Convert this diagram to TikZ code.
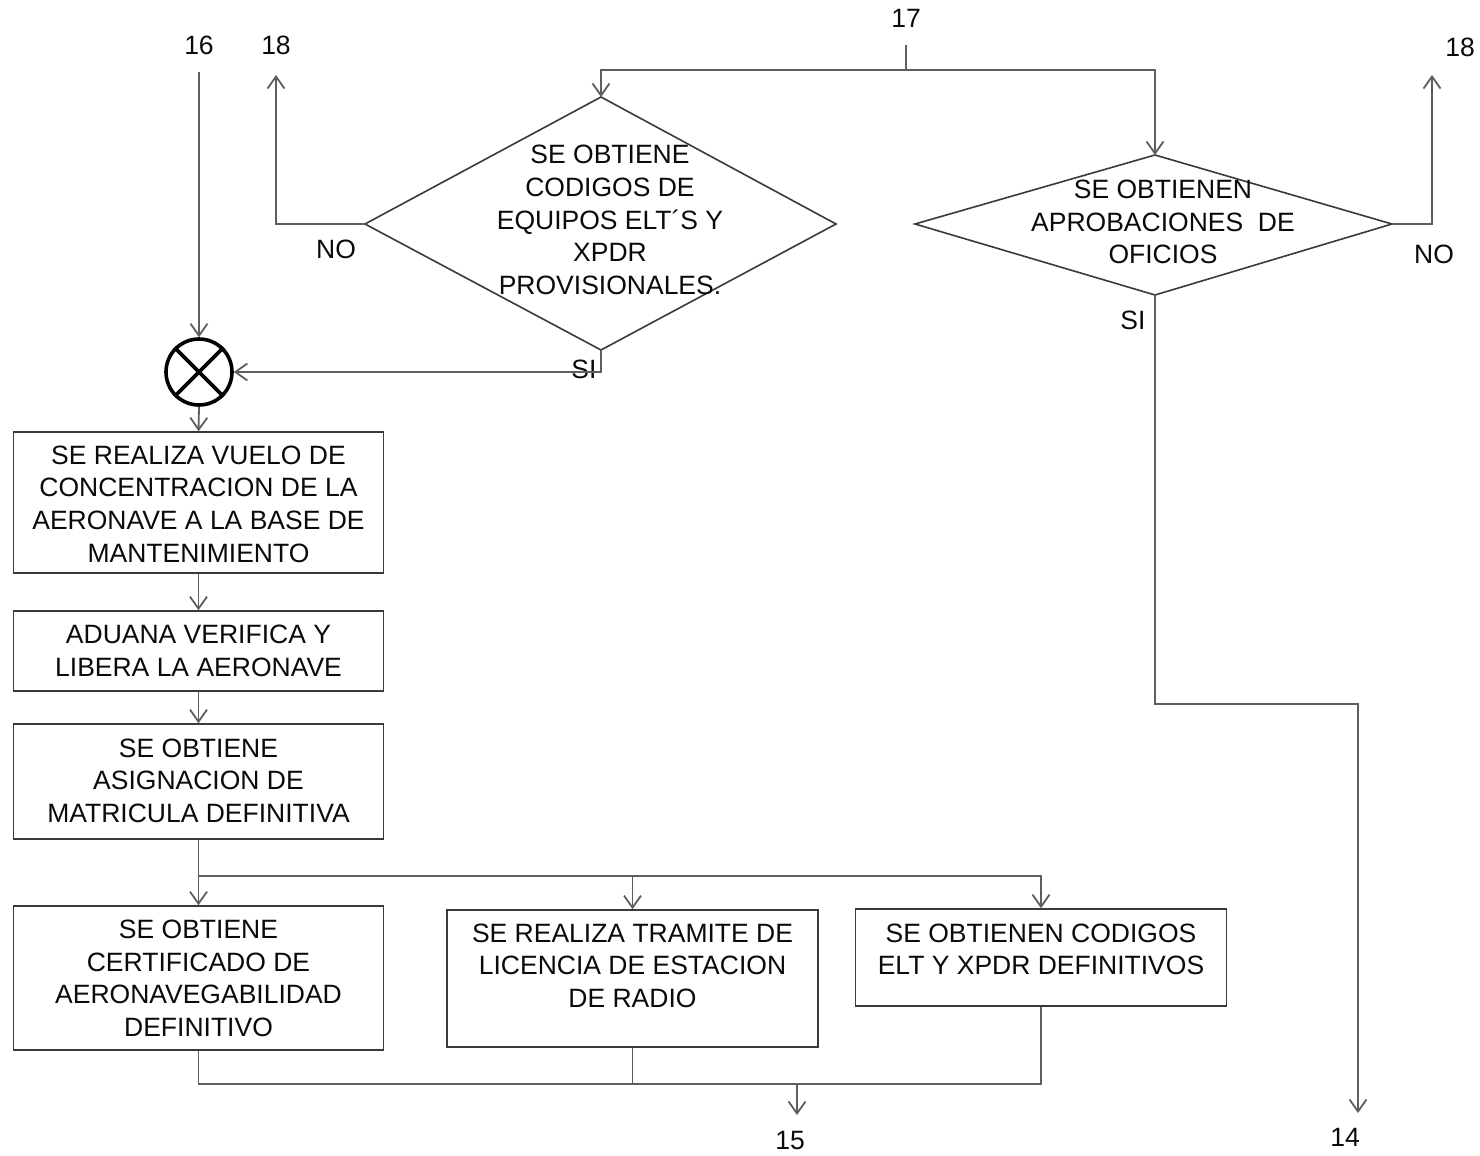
\documentclass[tikz,border=0pt]{standalone}
\usepackage{fontspec}
\setmainfont{Liberation Sans}
\usetikzlibrary{arrows.meta,shapes.geometric}
\definecolor{ink}{HTML}{0A0A0A}
\definecolor{wire}{HTML}{5E5E5E}
\definecolor{edge}{HTML}{3A3A3A}
\begin{document}
\begin{tikzpicture}[x=1pt,y=-1pt,
  txt/.style={align=center,inner sep=0pt,text=ink,font=\fontsize{26.5}{32.6}\selectfont},
  box/.style={draw=edge,line width=1.6pt,rectangle,inner sep=0pt},
  wirestyle/.style={draw=wire,line width=1.8pt},
  arr/.style={wirestyle,-{Straight Barb[length=12pt,width=17pt]}}]
\useasboundingbox (0,0) rectangle (1480,1156);
\fill[white] (0,0) rectangle (1480,1156);

% ---- decision: provisional ELT/XPDR codes
\coordinate (dlT) at (601,97);
\coordinate (dlL) at (365,224);
\coordinate (dlR) at (836,224);
\coordinate (dlB) at (601,350);
\draw[draw=edge,line width=1.6pt] (dlT) -- (dlR) -- (dlB) -- (dlL) -- cycle;
\node[txt] (dlt) at (610,220) {SE OBTIENE\\CODIGOS DE\\EQUIPOS ELT´S Y\\XPDR\\PROVISIONALES.};

% ---- decision: approvals
\coordinate (drT) at (1155,155);
\coordinate (drL) at (915,224);
\coordinate (drR) at (1392,224);
\coordinate (drB) at (1155,295);
\draw[draw=edge,line width=1.6pt] (drT) -- (drR) -- (drB) -- (drL) -- cycle;
\node[txt] (drt) at (1163,222) {SE OBTIENEN\\APROBACIONES \ DE\\OFICIOS};

% ---- summing junction
\node[draw=black,circle,line width=3.6pt,minimum size=66pt,inner sep=0pt] (circ) at (199,372) {};
\draw[black,line width=3.6pt] (circ.45) -- (circ.225) (circ.135) -- (circ.315);

% ---- process boxes
\node[box,minimum width=370pt,minimum height=141pt] (b1) at (198.5,502.5) {};
\node[txt] (t1) at (198.5,504) {SE REALIZA VUELO DE\\CONCENTRACION DE LA\\AERONAVE A LA BASE DE\\MANTENIMIENTO};
\node[box,minimum width=370pt,minimum height=80pt] (b2) at (198.5,651) {};
\node[txt] (t2) at (198.5,651) {ADUANA VERIFICA Y\\LIBERA LA AERONAVE};
\node[box,minimum width=370pt,minimum height=115pt] (b3) at (198.5,781.5) {};
\node[txt] (t3) at (198.5,780.5) {SE OBTIENE\\ASIGNACION DE\\MATRICULA DEFINITIVA};
\node[box,minimum width=370pt,minimum height=144pt] (b4) at (198.5,978) {};
\node[txt] (t4) at (198.5,978.5) {SE OBTIENE\\CERTIFICADO DE\\AERONAVEGABILIDAD\\DEFINITIVO};
\node[box,minimum width=371pt,minimum height=137pt] (b5) at (632.5,978.5) {};
\node[txt] (t5) at (632.5,965.5) {SE REALIZA TRAMITE DE\\LICENCIA DE ESTACION\\DE RADIO};
\node[box,minimum width=371pt,minimum height=97pt] (b6) at (1041,957.5) {};
\node[txt] (t6) at (1041,949.5) {SE OBTIENEN CODIGOS\\ELT Y XPDR DEFINITIVOS};

% ---- connector labels
\node[txt] (l16) at (199,45) {16};
\node[txt] (l18a) at (276,45) {18};
\node[txt] (l17) at (906,18) {17};
\node[txt] (l18b) at (1460,47) {18};
\node[txt] (noL) at (336,249) {NO};
\node[txt] (siL) at (584,369) {SI};
\node[txt] (siR) at (1133,320) {SI};
\node[txt] (noR) at (1434,254) {NO};
\node[txt] (l15) at (790,1140) {15};
\node[txt] (l14) at (1345,1137) {14};

% ---- connector end points
\coordinate (s16) at (199,72);
\coordinate (e18a) at (276,75);
\coordinate (s17) at (906,45);
\coordinate (j17) at (906,70);
\coordinate (e18b) at (1432,75);
\coordinate (k14) at (1358,704);
\coordinate (e14) at (1358,1113);
\coordinate (split) at (198.5,876);
\coordinate (mL) at (198.5,1084);
\coordinate (mR) at (1041,1084);
\coordinate (j15) at (797,1084);
\coordinate (e15) at (797,1115);

% ---- connectors
\draw[arr] (s16) -- (circ.north);
\draw[arr] (dlL) -| (e18a);
\draw[wirestyle] (s17) -- (j17);
\draw[arr] (j17) -| (dlT);
\draw[arr] (j17) -| (drT);
\draw[arr] (dlB) |- (circ.east);
\draw[arr] (drR) -| (e18b);
\draw[arr] (drB) |- (k14) -- (e14);
\draw[arr] (circ.south) -- (b1.north);
\draw[arr] (b1.south) -- (b2.north);
\draw[arr] (b2.south) -- (b3.north);
\draw[wirestyle] (b3.south) -- (split);
\draw[arr] (split) -- (b4.north);
\draw[arr] (split) -| (b5.north);
\draw[arr] (split) -| (b6.north);
\draw[wirestyle] (b4.south) -- (mL) -- (mR) -- (b6.south);
\draw[wirestyle] (b5.south) -- (b5.south |- mL);
\draw[arr] (j15) -- (e15);
\end{tikzpicture}
\end{document}
